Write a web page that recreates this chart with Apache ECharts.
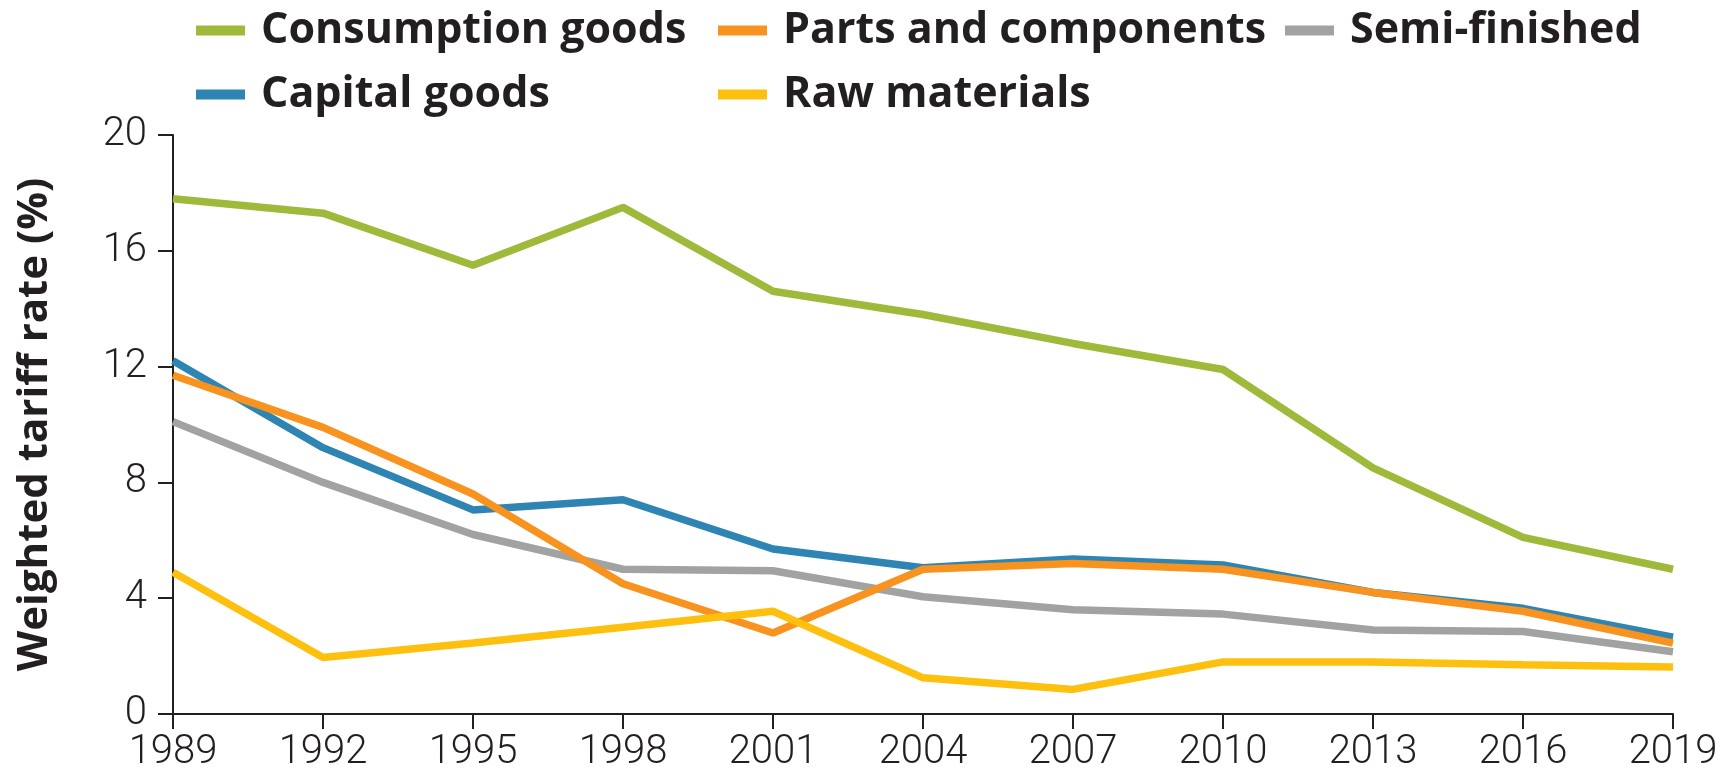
<!DOCTYPE html>
<html>
<head>
<meta charset="utf-8">
<script src="https://cdn.jsdelivr.net/npm/echarts@6/dist/echarts.min.js"></script>
<style>
html,body{margin:0;padding:0;background:#fff;}
#chart{width:1726px;height:779px;}
</style>
</head>
<body>
<div id="chart"></div>
<script>
var years = ['1989','1992','1995','1998','2001','2004','2007','2010','2013','2016','2019'];
var consumption = [17.8,17.3,15.5,17.5,14.6,13.8,12.8,11.9,8.5,6.1,5.0];
var parts = [11.7,9.9,7.6,4.5,2.8,5.0,5.2,5.0,4.2,3.55,2.45];
var semi = [10.1,8.0,6.2,5.0,4.95,4.05,3.6,3.45,2.9,2.85,2.15];
var capital = [12.2,9.2,7.05,7.4,5.7,5.05,5.35,5.15,4.2,3.65,2.65];
var raw = [4.9,1.95,2.45,3.0,3.55,1.25,0.85,1.8,1.8,1.7,1.62];
var yTicks = [0,4,8,12,16,20];

var C = {
  consumption:'#9fb93a', parts:'#f7931e', semi:'#a1a3a2', capital:'#2e85b4', raw:'#fec00f'
};
var legendFont = {fontFamily:'"Open Sans", Roboto, sans-serif', fontWeight:'bold', fontSize:43, color:'#231f20', padding:[0,0,0,11]};
function lg(name, left, top){
  return {data:[name], left:left, top:top, itemWidth:49, itemHeight:10, icon:'rect',
    textStyle:legendFont, selectedMode:false};
}
var chart = echarts.init(document.getElementById('chart'));
function line(name, data, color, z){
  return {name:name, type:'line', data:data, symbol:'none', z:z,
    lineStyle:{color:color, width:7.5}, itemStyle:{color:color}};
}
chart.setOption({
  animation:false,
  legend:[
    lg('Consumption goods',191,4),
    lg('Parts and components',713,4),
    lg('Semi-finished',1280,4),
    lg('Capital goods',191,68),
    lg('Raw materials',713,68)
  ],
  grid:{left:173, right:53, top:135, bottom:65, containLabel:false},
  xAxis:{type:'category', data:years, boundaryGap:false,
    axisLine:{lineStyle:{color:'#231f20', width:2}},
    axisTick:{length:15, lineStyle:{color:'#231f20', width:2}, alignWithLabel:true},
    axisLabel:{fontFamily:'Roboto, sans-serif', fontWeight:300, fontSize:40, color:'#231f20', margin:19}
  },
  yAxis:{type:'value', min:0, max:20, interval:4,
    name:'Weighted tariff rate (%)', nameLocation:'middle', nameGap:117, nameRotate:90,
    nameTextStyle:{fontFamily:'"Open Sans", Roboto, sans-serif', fontWeight:'bold', fontSize:42, color:'#231f20'},
    axisLine:{show:true, lineStyle:{color:'#231f20', width:2}},
    axisTick:{show:true, length:15, lineStyle:{color:'#231f20', width:2}},
    splitLine:{show:false},
    axisLabel:{fontFamily:'Roboto, sans-serif', fontWeight:300, fontSize:40, color:'#231f20', margin:26,
      formatter:function(v){return yTicks.indexOf(v)>=0 ? String(v) : '';}}
  },
  series:[
    line('Capital goods', capital, C.capital, 2),
    line('Semi-finished', semi, C.semi, 3),
    line('Parts and components', parts, C.parts, 4),
    line('Raw materials', raw, C.raw, 5),
    line('Consumption goods', consumption, C.consumption, 6)
  ]
});
</script>
</body>
</html>
